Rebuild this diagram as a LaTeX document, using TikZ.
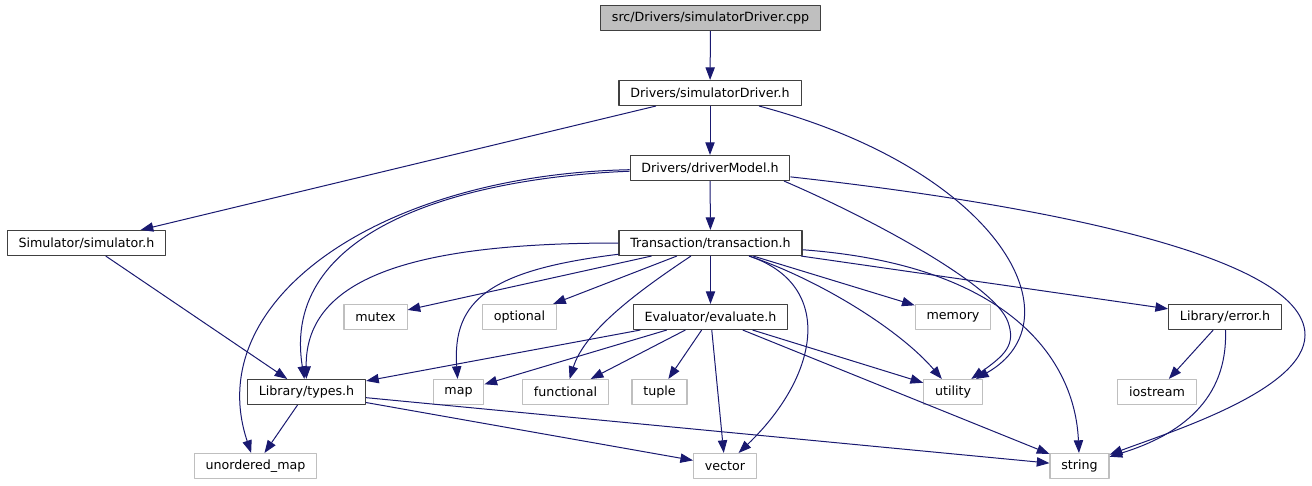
\documentclass[tikz,border=0pt]{standalone}
\usepackage{fontspec}
\setmainfont{DejaVu Sans}
\usetikzlibrary{arrows.meta}
\definecolor{edgeblue}{HTML}{191970}
\definecolor{extgray}{HTML}{BFBFBF}
\definecolor{docgray}{HTML}{404040}

\begin{document}
\begin{tikzpicture}[
  x=0.75pt,
  y=-0.75pt,
  line join=round,
  every node/.style={font=\fontsize{9.5}{11}\selectfont},
  header/.style={draw=docgray,line width=.8pt,fill=white,minimum height=18.75pt,inner xsep=8.5pt,inner ysep=0pt},
  external/.style={header,draw=extgray},
  focus/.style={header,fill=extgray},
  dep/.style={edgeblue,line width=.75pt,-{Triangle[length=9.5pt,width=7pt]}}
]
% Bounding box.
\useasboundingbox (0,0) rectangle (1312,485);

% Files of the project.
\node[focus] (cpp) at (710.5,18) {src/Drivers/simulatorDriver.cpp};
\node[header] (sdh) at (710,93) {Drivers/simulatorDriver.h};
\node[header] (dm) at (710,168) {Drivers/driverModel.h};
\node[header] (sim) at (86.5,243) {Simulator/simulator.h};
\node[header] (trans) at (710.5,243) {Transaction/transaction.h};
\node[header] (eval) at (710.5,317) {Evaluator/evaluate.h};
\node[header] (err) at (1225,317) {Library/error.h};
\node[header] (types) at (306.5,392) {Library/types.h};

% Standard headers.
\node[external] (mutex) at (375.5,317) {mutex};
\node[external] (opt) at (519.5,317) {optional};
\node[external] (mem) at (953,317) {memory};
\node[external] (map) at (458.5,392) {map};
\node[external] (func) at (565.5,392) {functional};
\node[external] (tup) at (659.5,392) {tuple};
\node[external] (util) at (953,392) {utility};
\node[external] (ios) at (1157,392) {iostream};
\node[external] (umap) at (255.5,466) {unordered\_map};
\node[external] (vec) at (725,466) {vector};
\node[external] (str) at (1079.5,466) {string};

% Includes of the driver.
\draw[dep] (cpp) -- (sdh);
\draw[dep] (sdh) -- (sim);
\draw[dep] (sdh) -- (dm);
\draw[dep] (sdh) .. controls (1000,170) and (1080,320) .. (util);
\draw[dep] (dm) .. controls (460,178) and (280,230) .. (types);
\draw[dep] (dm) .. controls (380,175) and (200,300) .. (umap);
\draw[dep] (dm) -- (trans);
\draw[dep] (dm.-10) .. controls (870,218) and (995,285) .. (1008,322)
  .. controls (1016,345) and (1005,355) .. (util);
\draw[dep] (dm) .. controls (1000,200) and (1305,250) .. (1305,335)
  .. controls (1305,390) and (1170,432) .. (str);
\draw[dep] (sim) -- (types);

% Includes of the transaction.
\draw[dep] (trans) .. controls (420,243) and (305,275) .. (types);
\draw[dep] (trans) -- (mutex);
\draw[dep] (trans) .. controls (490,270) and (452,300) .. (map);
\draw[dep] (trans) -- (opt);
\draw[dep] (trans) .. controls (640,290) and (585,330) .. (func);
\draw[dep] (trans) -- (eval);
\draw[dep] (trans) .. controls (835,285) and (820,375) .. (vec);
\draw[dep] (trans) .. controls (820,280) and (900,330) .. (util);
\draw[dep] (trans) -- (mem);
\draw[dep] (trans) .. controls (1010,265) and (1075,360) .. (str);
\draw[dep] (trans) -- (err);

% Includes of the evaluator, the error and the types.
\draw[dep] (eval) -- (types);
\draw[dep] (eval) -- (map);
\draw[dep] (eval) -- (func);
\draw[dep] (eval) -- (tup);
\draw[dep] (eval) -- (vec);
\draw[dep] (eval) -- (util);
\draw[dep] (eval) -- (str);
\draw[dep] (err) -- (ios);
\draw[dep] (err) .. controls (1228,400) and (1180,435) .. (str);
\draw[dep] (types) -- (umap);
\draw[dep] (types) -- (vec);
\draw[dep] (types) -- (str);
\end{tikzpicture}
\end{document}
